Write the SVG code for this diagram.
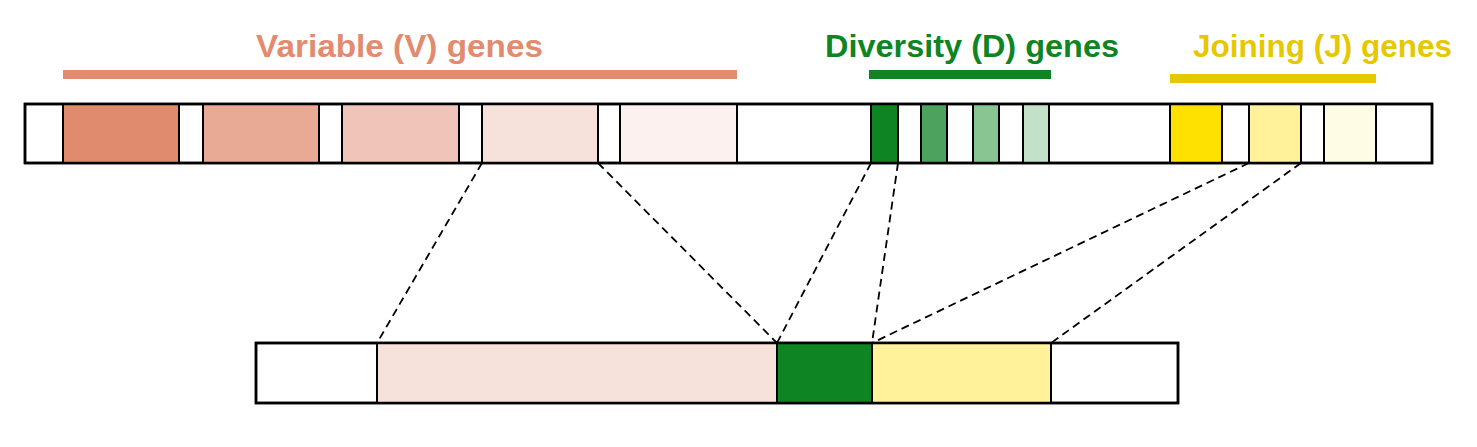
<svg xmlns="http://www.w3.org/2000/svg" width="1477" height="447" viewBox="0 0 1477 447">
<style>
.t{font-family:"Liberation Sans",Arial,sans-serif;font-weight:bold;font-size:32px}
.seg{stroke:#000;stroke-width:2}
.out{fill:#fff;stroke:#000;stroke-width:2.5}
.dash{stroke:#000;stroke-width:1.8;stroke-dasharray:8 5;fill:none}
</style>
<rect width="1477" height="447" fill="#fff"/>
<g id="labels">
<text class="t" x="256" y="57" fill="#E28B6E" textLength="287" lengthAdjust="spacingAndGlyphs">Variable (V) genes</text>
<text class="t" x="825" y="57" fill="#0F8423" textLength="294" lengthAdjust="spacingAndGlyphs">Diversity (D) genes</text>
<text class="t" x="1193" y="57" fill="#E6C700" textLength="259" lengthAdjust="spacingAndGlyphs">Joining (J) genes</text>
<rect x="63" y="70" width="674" height="9" fill="#E28B6E"/>
<rect x="869" y="70" width="182" height="9" fill="#0F8423"/>
<rect x="1170" y="74" width="206" height="9" fill="#E6C700"/>
</g>
<g id="germline">
<rect class="out" x="25" y="104" width="1407" height="59"/>
<rect class="seg" x="63" y="104" width="116" height="59" fill="#E08A6E"/>
<rect class="seg" x="203" y="104" width="116" height="59" fill="#E8A995"/>
<rect class="seg" x="342" y="104" width="117" height="59" fill="#F0C4B9"/>
<rect class="seg" x="482" y="104" width="116" height="59" fill="#F7E1DB"/>
<rect class="seg" x="620" y="104" width="117" height="59" fill="#FCF1EE"/>
<rect class="seg" x="871" y="104" width="27" height="59" fill="#0F8423"/>
<rect class="seg" x="921" y="104" width="26" height="59" fill="#4DA35E"/>
<rect class="seg" x="973" y="104" width="26" height="59" fill="#88C592"/>
<rect class="seg" x="1023" y="104" width="26" height="59" fill="#C3E1C8"/>
<rect class="seg" x="1170" y="104" width="52" height="59" fill="#FFE100"/>
<rect class="seg" x="1249" y="104" width="52" height="59" fill="#FFF29B"/>
<rect class="seg" x="1324" y="104" width="52" height="59" fill="#FFFCE5"/>
<rect x="25" y="104" width="1407" height="59" fill="none" stroke="#000" stroke-width="2.5"/>
</g>
<g id="connectors">
<line class="dash" x1="482" y1="163" x2="377" y2="343"/>
<line class="dash" x1="598" y1="163" x2="777" y2="343"/>
<line class="dash" x1="871" y1="163" x2="777" y2="343"/>
<line class="dash" x1="898" y1="163" x2="872" y2="343"/>
<line class="dash" x1="1249" y1="163" x2="872" y2="343"/>
<line class="dash" x1="1301" y1="163" x2="1051" y2="343"/>
</g>
<g id="rearranged">
<rect class="out" x="256" y="343" width="922" height="60"/>
<rect class="seg" x="377" y="343" width="400" height="60" fill="#F7E1DB"/>
<rect class="seg" x="777" y="343" width="95" height="60" fill="#0F8423"/>
<rect class="seg" x="872" y="343" width="179" height="60" fill="#FFF29B"/>
<rect x="256" y="343" width="922" height="60" fill="none" stroke="#000" stroke-width="2.5"/>
</g>
</svg>
